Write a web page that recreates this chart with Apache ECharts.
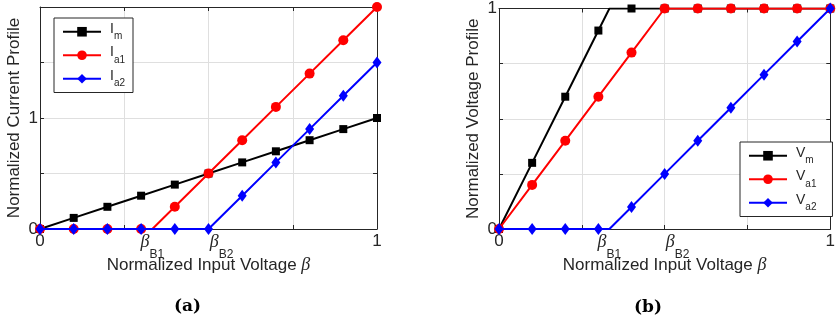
<!DOCTYPE html>
<html><head><meta charset="utf-8">
<script src="https://cdn.jsdelivr.net/npm/echarts@6/dist/echarts.min.js"></script>
<style>html,body{margin:0;padding:0;background:#fff}#c{width:838px;height:324px}</style>
</head><body><div id="c"></div>
<script>
// ---------- data ----------
const beta = [0, 0.1, 0.2, 0.3, 0.4, 0.5, 0.6, 0.7, 0.8, 0.9, 1.0];
const betaB1 = 1 / 3;
const betaB2 = 0.5;
// (a) current profiles
const Im  = [0, 0.1, 0.2, 0.3, 0.4, 0.5, 0.6, 0.7, 0.8, 0.9, 1.0];
const Ia1 = [0, 0, 0, 0, 0.2, 0.5, 0.8, 1.1, 1.4, 1.7, 2.0];
const Ia2 = [0, 0, 0, 0, 0, 0, 0.3, 0.6, 0.9, 1.2, 1.5];
// (b) voltage profiles
const Vm  = [0, 0.3, 0.6, 0.9, 1, 1, 1, 1, 1, 1, 1];
const Va1 = [0, 0.2, 0.4, 0.6, 0.8, 1, 1, 1, 1, 1, 1];
const Va2 = [0, 0, 0, 0, 0.1, 0.25, 0.4, 0.55, 0.7, 0.85, 1.0];
// corner points (no marker) at beta_B1
const Ia1Corner = [betaB1, 0];
const VmCorner  = [betaB1, 1];
const Va2Corner = [betaB1, 0];
// series names / legend text
const namesA = ['Im', 'Ia1', 'Ia2'];
const namesB = ['Vm', 'Va1', 'Va2'];
const legendMain = { Im: 'I', Ia1: 'I', Ia2: 'I', Vm: 'V', Va1: 'V', Va2: 'V' };
const legendSub  = { Im: 'm', Ia1: 'a1', Ia2: 'a2', Vm: 'm', Va1: 'a1', Va2: 'a2' };
// ticks
const xTickValues = [0, 0.25, 0.5, 0.75, 1];
const xLabelValues = [0, betaB1, betaB2, 1];
const xLabelTexts = ['0', '{b|β}{s|B1}', '{b2|β}{s|B2}', '1'];
const yTickA = [0, 0.5, 1, 1.5, 2];
const yTickB = [0, 0.25, 0.5, 0.75, 1];
const yLabelValues = [0, 1];
const yLabelTexts = ['0', '1'];
const captions = ['(a)', '(b)'];

// ---------- styles ----------
const TXT = '#262626';
const FONT = 'Liberation Sans';
const GRIDC = '#dfdfdf';
const colors = ['#000000', '#ff0000', '#0000ff'];
const symbols = ['rect', 'circle', 'diamond'];
const symSizes = [8, 10, [9, 12]];

function buildData(ys, corner) {
  const d = beta.map((x, i) => [x, ys[i]]);
  if (corner) {
    let k = d.findIndex(p => p[0] > corner[0]);
    d.splice(k, 0, { value: corner, symbol: 'none' });
  }
  return d;
}

function mkSeries(name, ys, corner, idx, g) {
  return {
    name, type: 'line', xAxisIndex: g * 2, yAxisIndex: g * 2,
    data: buildData(ys, corner),
    symbol: symbols[idx], symbolSize: symSizes[idx], showSymbol: true,
    lineStyle: { color: colors[idx], width: 2 },
    itemStyle: { color: colors[idx], borderWidth: 0 },
    z: 2 + idx, emphasis: { disabled: true }, silent: true
  };
}

const lblRich = {
  b: { fontFamily: 'Liberation Serif', fontStyle: 'italic', fontSize: 18, lineHeight: 17, padding: [12, 0, 10, 0], color: TXT },
  b2: { fontFamily: 'Liberation Serif', fontStyle: 'italic', fontSize: 18, lineHeight: 17, padding: [12, 0, 10, 26], color: TXT },
  s: { fontFamily: FONT, fontSize: 12, lineHeight: 12, padding: [27, 0, 0, 0], color: TXT }
};

function xBottom(g) {
  return {
    type: 'value', gridIndex: g, min: 0, max: 1, interval: 0.25, position: 'bottom',
    axisLine: { show: true, onZero: false, lineStyle: { color: TXT, width: 1 } },
    axisTick: { show: true, inside: true, length: 4, customValues: xTickValues, lineStyle: { color: TXT } },
    splitLine: { show: true, lineStyle: { color: GRIDC, width: 1 } },
    axisLabel: {
      customValues: xLabelValues, color: TXT, fontSize: 17, fontFamily: FONT, lineHeight: 17, margin: 4,
      formatter: v => { const i = xLabelValues.findIndex(t => Math.abs(t - v) < 1e-6); return i >= 0 ? xLabelTexts[i] : ''; },
      rich: lblRich
    },
    name: 'Normalized Input Voltage {b|β}', nameLocation: 'middle', nameGap: 28, nameMoveOverlap: false,
    nameTextStyle: { color: TXT, fontSize: 17, fontFamily: FONT, lineHeight: 17,
      rich: { b: { fontFamily: 'Liberation Serif', fontStyle: 'italic', fontSize: 18, lineHeight: 17, color: TXT } } }
  };
}
function xTop(g) {
  return {
    type: 'value', gridIndex: g, min: 0, max: 1, interval: 0.25, position: 'top',
    axisLine: { show: true, onZero: false, lineStyle: { color: TXT, width: 1 } },
    axisTick: { show: true, inside: true, length: 4, customValues: xTickValues, lineStyle: { color: TXT } },
    splitLine: { show: false }, axisLabel: { show: false }
  };
}
function yLeft(g, max, ticks, name) {
  return {
    type: 'value', gridIndex: g, min: 0, max, interval: ticks[1] - ticks[0], position: 'left',
    axisLine: { show: true, onZero: false, lineStyle: { color: TXT, width: 1 } },
    axisTick: { show: true, inside: true, length: 4, customValues: ticks, lineStyle: { color: TXT } },
    splitLine: { show: true, lineStyle: { color: GRIDC, width: 1 } },
    axisLabel: {
      customValues: yLabelValues, color: TXT, fontSize: 17, fontFamily: FONT, margin: 2,
      formatter: v => { const i = yLabelValues.findIndex(t => Math.abs(t - v) < 1e-6); return i >= 0 ? yLabelTexts[i] : ''; }
    },
    name, nameLocation: 'middle', nameGap: 17, nameMoveOverlap: false,
    nameTextStyle: { color: TXT, fontSize: 17, fontFamily: FONT }
  };
}
function yRight(g, max, ticks) {
  return {
    type: 'value', gridIndex: g, min: 0, max, interval: ticks[1] - ticks[0], position: 'right',
    axisLine: { show: true, onZero: false, lineStyle: { color: TXT, width: 1 } },
    axisTick: { show: true, inside: true, length: 4, customValues: ticks, lineStyle: { color: TXT } },
    splitLine: { show: false }, axisLabel: { show: false }
  };
}
const legRich = {
  m: { fontFamily: FONT, fontSize: 14, lineHeight: 14, padding: [0, 0, 5.5, 4], color: TXT },
  s: { fontFamily: FONT, fontSize: 10, lineHeight: 10, padding: [9.5, 0, 0, 0], color: TXT }
};
function legend(data, left, top, padR) {
  return {
    data, left, top, orient: 'vertical', itemWidth: 38, itemHeight: 12, itemGap: 4,
    padding: [4, padR, 4, 8], borderColor: TXT, borderWidth: 1, backgroundColor: '#fff',
    selectedMode: false,
    formatter: n => '{m|' + legendMain[n] + '}{s|' + legendSub[n] + '}',
    textStyle: { rich: legRich }
  };
}

const chart = echarts.init(document.getElementById('c'), null, { renderer: 'canvas' });
chart.setOption({
  animation: false,
  backgroundColor: '#fff',
  grid: [
    { left: 40, top: 7, width: 337, height: 222 },
    { left: 499, top: 7, width: 335, height: 222 }
  ],
  xAxis: [xBottom(0), xTop(0), xBottom(1), xTop(1)],
  yAxis: [
    yLeft(0, 2, yTickA, 'Normalized Current Profile'), yRight(0, 2, yTickA),
    yLeft(1, 1, yTickB, 'Normalized Voltage Profile'), yRight(1, 1, yTickB)
  ],
  legend: [legend(namesA, 54, 18, 8), legend(namesB, 740, 142, 16)],
  series: [
    mkSeries(namesA[0], Im, null, 0, 0),
    mkSeries(namesA[1], Ia1, Ia1Corner, 1, 0),
    mkSeries(namesA[2], Ia2, null, 2, 0),
    mkSeries(namesB[0], Vm, VmCorner, 0, 1),
    mkSeries(namesB[1], Va1, null, 1, 1),
    mkSeries(namesB[2], Va2, Va2Corner, 2, 1)
  ],
  graphic: [
    { type: 'text', left: 174, top: 298, style: { text: captions[0], font: 'bold 17px "DejaVu Serif"', fill: '#000' } },
    { type: 'text', left: 634, top: 299, style: { text: captions[1], font: 'bold 17px "DejaVu Serif"', fill: '#000' } }
  ]
});
</script></body></html>
